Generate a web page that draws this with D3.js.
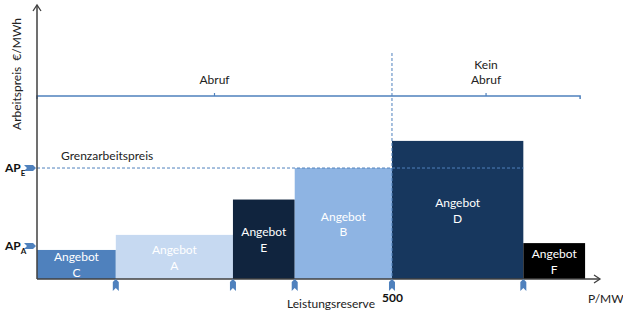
<!DOCTYPE html>
<html><head><meta charset="utf-8">
<script src="https://cdn.jsdelivr.net/npm/d3@7"></script>
<style>
html,body{margin:0;padding:0;background:#fff;}
svg{display:block;font-family:Lato,"Open Sans",sans-serif;}
</style></head>
<body>
<svg id="chart" width="623" height="312"></svg>
<script>
// ---- data ----
const offers = ["C", "A", "E", "B", "D", "F"];
const capacityEnd = [111, 276, 363, 500, 685, 772];   // cumulative MW
const prices = [10.6, 16.1, 29, 40.5, 50.4, 13.1];     // €/MWh (relative)
const priceLabels = ["AP_A", "AP_E"];
const priceLevels = [12, 40.5];
const xTickValues = [500];
const reserve = 500;
const groupLabels = [["Abruf"], ["Kein", "Abruf"]];
const groupRanges = [[0, 500], [500, 765]];

const offerColors = {C:"#4f81bd", A:"#c6d9f1", E:"#10243e", B:"#8eb4e3", D:"#17375e", F:"#000000"};
const accent = "#4f81bd";
const axisColor = "#404040";

const svg = d3.select("#chart");
const x = d3.scaleLinear().domain([0, 793]).range([37, 600]);
const y = d3.scaleLinear().domain([0, 100]).range([279, 5]);

// bars
const bars = offers.map((o, i) => ({
  name: o, x0: i === 0 ? 0 : capacityEnd[i - 1], x1: capacityEnd[i], p: prices[i]
}));
svg.append("g").selectAll("rect").data(bars).join("rect")
  .attr("x", d => x(d.x0)).attr("width", d => x(d.x1) - x(d.x0))
  .attr("y", d => y(d.p)).attr("height", d => y(0) - y(d.p))
  .attr("fill", d => offerColors[d.name]);

const lbl = svg.append("g").selectAll("text").data(bars).join("text")
  .attr("text-anchor", "middle").attr("fill", "#fff").attr("font-size", 12)
  .attr("x", d => (x(d.x0) + x(d.x1)) / 2)
  .attr("y", d => (y(d.p) + y(0)) / 2);
lbl.append("tspan").attr("x", d => (x(d.x0) + x(d.x1)) / 2).attr("dy", "-0.25em").text("Angebot");
lbl.append("tspan").attr("x", d => (x(d.x0) + x(d.x1)) / 2).attr("dy", "1.3em").text(d => d.name);

// dashed lines
svg.append("line").attr("x1", x(0)).attr("x2", x(capacityEnd[4]))
  .attr("y1", y(priceLevels[1])).attr("y2", y(priceLevels[1]))
  .attr("stroke", accent).attr("stroke-width", 1).attr("stroke-dasharray", "3,2");
svg.append("line").attr("x1", x(reserve)).attr("x2", x(reserve))
  .attr("y1", 53).attr("y2", y(0))
  .attr("stroke", accent).attr("stroke-width", 1).attr("stroke-dasharray", "3,2");

// bracket
const bY = 96;
svg.append("path")
  .attr("d", `M${x(groupRanges[0][0])},${bY + 3}V${bY}H${x(groupRanges[1][1])}V${bY + 3}`)
  .attr("fill", "none").attr("stroke", accent).attr("stroke-width", 1.5);
groupRanges.forEach((r, i) => {
  const cx = (x(r[0]) + x(r[1])) / 2;
  svg.append("line").attr("x1", cx).attr("x2", cx).attr("y1", bY).attr("y2", bY - 3)
    .attr("stroke", accent).attr("stroke-width", 1.2);
  const lines = groupLabels[i];
  lines.forEach((t, j) => {
    svg.append("text").attr("x", cx).attr("y", 84 - (lines.length - 1 - j) * 15)
      .attr("text-anchor", "middle").attr("font-size", 12).attr("fill", "#222").text(t);
  });
});

// axes
const xAxis = d3.axisBottom(x).tickValues(xTickValues).tickSize(0).tickPadding(14)
  .tickFormat(d3.format("d"));
const gx = svg.append("g").attr("transform", `translate(0,${y(0)})`).call(xAxis);
gx.select(".domain").remove();
gx.selectAll("text").attr("font-size", 12).attr("font-weight", "bold")
  .attr("font-family", "Lato, sans-serif").attr("fill", "#111");

svg.append("line").attr("x1", x(0)).attr("x2", 600).attr("y1", y(0)).attr("y2", y(0))
  .attr("stroke", axisColor).attr("stroke-width", 1.5);
svg.append("path").attr("d", `M594,275L600,${y(0)}L594,283`).attr("fill", "none")
  .attr("stroke", axisColor).attr("stroke-width", 1.3);
svg.append("line").attr("x1", x(0)).attr("x2", x(0)).attr("y1", y(0)).attr("y2", 5)
  .attr("stroke", axisColor).attr("stroke-width", 1.5);
svg.append("path").attr("d", `M33,11L37,5L41,11`).attr("fill", "none")
  .attr("stroke", axisColor).attr("stroke-width", 1.3);

// x markers at boundaries
const marker = "M-3,0L0,-3L3,0L3,9L0,6L-3,9Z";
svg.append("g").selectAll("path").data(capacityEnd.slice(0, 5)).join("path")
  .attr("d", marker).attr("fill", accent)
  .attr("transform", d => `translate(${x(d)},${y(0) + 3})`);

// y markers
const ymarker = "M0,-3L9,-3L12,0L9,3L0,3L3,0Z";
svg.append("g").selectAll("path").data(priceLevels).join("path")
  .attr("d", ymarker).attr("fill", accent)
  .attr("transform", d => `translate(24,${y(d)})`);
priceLabels.forEach((l, i) => {
  const [main, sub] = l.split("_");
  const t = svg.append("text").attr("x", 5).attr("y", y(priceLevels[i]) + 4)
    .attr("font-size", 12).attr("font-weight", "bold").attr("fill", "#111");
  t.append("tspan").text(main);
  t.append("tspan").attr("font-size", 8).attr("dy", 4).text(sub);
});

// texts
svg.append("text").attr("x", 61).attr("y", 160).attr("font-size", 12).attr("fill", "#222")
  .text("Grenzarbeitspreis");
svg.append("text").attr("x", 287).attr("y", 308).attr("font-size", 12).attr("fill", "#222")
  .text("Leistungsreserve");
svg.append("text").attr("x", 588).attr("y", 303).attr("font-size", 12).attr("fill", "#222")
  .text("P/MW");
svg.append("text").attr("transform", "translate(21,74) rotate(-90)")
  .attr("text-anchor", "middle").attr("font-size", 12).attr("fill", "#222")
  .attr("xml:space", "preserve").text("Arbeitspreis  €/MWh");
</script>
</body></html>
